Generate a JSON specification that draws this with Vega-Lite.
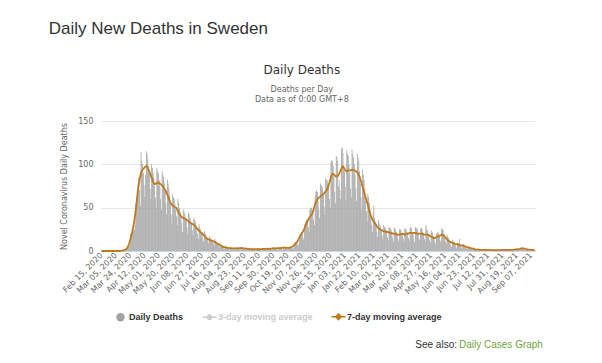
{
  "$schema": "https://vega.github.io/schema/vega-lite/v6.json",
  "background": "white",
  "autosize": {"type": "pad"},
  "padding": {"left": 48, "top": 20, "right": 0, "bottom": 0},
  "title": {"text": "Daily New Deaths in Sweden", "anchor": "start", "frame": "bounds", "dx": -12, "font": "Liberation Sans", "fontSize": 17, "fontWeight": "normal", "color": "#333333", "offset": 26},
  "vconcat": [
    {
      "width": 434,
      "height": 130,
      "title": {"text": "Daily Deaths", "subtitle": ["Deaths per Day", "Data as of 0:00 GMT+8"], "anchor": "middle", "frame": "bounds", "font": "DejaVu Sans", "fontSize": 12, "fontWeight": "normal", "color": "#333333", "subtitleFont": "DejaVu Sans", "subtitleFontSize": 8, "subtitleColor": "#666666", "subtitlePadding": 9, "subtitleLineHeight": 10, "offset": 12},
      "data": {
        "values": "d,v,a\n2020-02-15,0,0\n2020-02-16,0,0\n2020-02-17,0,0\n2020-02-18,0,0\n2020-02-19,0,0\n2020-02-20,0,0\n2020-02-21,0,0\n2020-02-22,0,0\n2020-02-23,0,0\n2020-02-24,0,0\n2020-02-25,0,0\n2020-02-26,0,0\n2020-02-27,0,0\n2020-02-28,0,0\n2020-02-29,0,0\n2020-03-01,0,0\n2020-03-02,0,0\n2020-03-03,0,0\n2020-03-04,0,0\n2020-03-05,0,0\n2020-03-06,0,0\n2020-03-07,0,0\n2020-03-08,0,0\n2020-03-09,0,0\n2020-03-10,0,0\n2020-03-11,1,0.1\n2020-03-12,0,0.1\n2020-03-13,1,0.3\n2020-03-14,0,0.4\n2020-03-15,1,0.6\n2020-03-16,1,0.9\n2020-03-17,2,1.3\n2020-03-18,3,1.7\n2020-03-19,3,2.3\n2020-03-20,5,3.2\n2020-03-21,5,4.5\n2020-03-22,4,6.5\n2020-03-23,6,9\n2020-03-24,20,12\n2020-03-25,18,15\n2020-03-26,21,18\n2020-03-27,24,22\n2020-03-28,26,27\n2020-03-29,24,31\n2020-03-30,30,37\n2020-03-31,55,43\n2020-04-01,62,50\n2020-04-02,70,58\n2020-04-03,78,66\n2020-04-04,85,73\n2020-04-05,70,79\n2020-04-06,52,84\n2020-04-07,114,88\n2020-04-08,104,91\n2020-04-09,100,93\n2020-04-10,90,94\n2020-04-11,76,95\n2020-04-12,62,96\n2020-04-13,88,97\n2020-04-14,115,97.5\n2020-04-15,112,98\n2020-04-16,106,97.5\n2020-04-17,96,95\n2020-04-18,88,93\n2020-04-19,72,91\n2020-04-20,60,88\n2020-04-21,100,86\n2020-04-22,96,84\n2020-04-23,90,82\n2020-04-24,85,79\n2020-04-25,75,78\n2020-04-26,62,77\n2020-04-27,50,77.5\n2020-04-28,96,78\n2020-04-29,92,78.5\n2020-04-30,90,79\n2020-05-01,82,79\n2020-05-02,74,78\n2020-05-03,60,77.5\n2020-05-04,48,77\n2020-05-05,92,76\n2020-05-06,88,75\n2020-05-07,85,74\n2020-05-08,78,73\n2020-05-09,68,71.5\n2020-05-10,55,70\n2020-05-11,42,68\n2020-05-12,82,66\n2020-05-13,78,64\n2020-05-14,72,62\n2020-05-15,65,59.5\n2020-05-16,54,57\n2020-05-17,42,55.5\n2020-05-18,32,54\n2020-05-19,66,53\n2020-05-20,62,52\n2020-05-21,60,51.5\n2020-05-22,54,51\n2020-05-23,48,50.5\n2020-05-24,40,50\n2020-05-25,30,49\n2020-05-26,60,47\n2020-05-27,56,45\n2020-05-28,50,43\n2020-05-29,45,42\n2020-05-30,40,41\n2020-05-31,32,40\n2020-06-01,22,39\n2020-06-02,48,38.5\n2020-06-03,46,38\n2020-06-04,43,37.5\n2020-06-05,39,37\n2020-06-06,35,36.5\n2020-06-07,28,36\n2020-06-08,20,35.5\n2020-06-09,44,35\n2020-06-10,42,34\n2020-06-11,38,33\n2020-06-12,35,32.5\n2020-06-13,31,32\n2020-06-14,24,31.5\n2020-06-15,18,31\n2020-06-16,38,30.5\n2020-06-17,36,30\n2020-06-18,34,29\n2020-06-19,30,28\n2020-06-20,26,27\n2020-06-21,20,26\n2020-06-22,14,25\n2020-06-23,31,24\n2020-06-24,28,23\n2020-06-25,25,22\n2020-06-26,22,21.5\n2020-06-27,20,21\n2020-06-28,15,20\n2020-06-29,11,19\n2020-06-30,23,18\n2020-07-01,21,17\n2020-07-02,19,16\n2020-07-03,16,15\n2020-07-04,14,14.5\n2020-07-05,11,14\n2020-07-06,8,13.5\n2020-07-07,17,13\n2020-07-08,15,12.5\n2020-07-09,14,12\n2020-07-10,12,12\n2020-07-11,11,12\n2020-07-12,9,11.5\n2020-07-13,6,11\n2020-07-14,14,10.5\n2020-07-15,12,10\n2020-07-16,11,9.5\n2020-07-17,9,9\n2020-07-18,8,8.5\n2020-07-19,6,8\n2020-07-20,4,7.5\n2020-07-21,9,7\n2020-07-22,8,6.5\n2020-07-23,7,6\n2020-07-24,6,5.5\n2020-07-25,5,5\n2020-07-26,3,4.8\n2020-07-27,2,4.5\n2020-07-28,6,4.2\n2020-07-29,5,4\n2020-07-30,4,3.8\n2020-07-31,4,3.6\n2020-08-01,3,3.5\n2020-08-02,2,3.4\n2020-08-03,1,3.3\n2020-08-04,5,3.2\n2020-08-05,4,3.1\n2020-08-06,4,3\n2020-08-07,3,3\n2020-08-08,3,3\n2020-08-09,2,3\n2020-08-10,1,3\n2020-08-11,4,3\n2020-08-12,4,3\n2020-08-13,3,3\n2020-08-14,4,3\n2020-08-15,3,3.1\n2020-08-16,2,3.2\n2020-08-17,2,3.3\n2020-08-18,5,3.4\n2020-08-19,4,3.4\n2020-08-20,4,3.3\n2020-08-21,3,3.2\n2020-08-22,3,3\n2020-08-23,2,2.9\n2020-08-24,1,2.8\n2020-08-25,4,2.7\n2020-08-26,3,2.6\n2020-08-27,3,2.5\n2020-08-28,3,2.4\n2020-08-29,2,2.3\n2020-08-30,1,2.2\n2020-08-31,1,2.1\n2020-09-01,3,2\n2020-09-02,3,2\n2020-09-03,2,2\n2020-09-04,2,2\n2020-09-05,2,2\n2020-09-06,1,2\n2020-09-07,1,2\n2020-09-08,3,2\n2020-09-09,3,2\n2020-09-10,2,2\n2020-09-11,2,2\n2020-09-12,2,2\n2020-09-13,1,2\n2020-09-14,1,2.1\n2020-09-15,3,2.2\n2020-09-16,3,2.3\n2020-09-17,3,2.4\n2020-09-18,3,2.5\n2020-09-19,2,2.5\n2020-09-20,2,2.5\n2020-09-21,1,2.5\n2020-09-22,4,2.5\n2020-09-23,3,2.5\n2020-09-24,3,2.5\n2020-09-25,3,2.5\n2020-09-26,2,2.6\n2020-09-27,2,2.7\n2020-09-28,1,2.8\n2020-09-29,4,2.9\n2020-09-30,4,3\n2020-10-01,4,3\n2020-10-02,3,3\n2020-10-03,3,3\n2020-10-04,2,3\n2020-10-05,1,3.1\n2020-10-06,4,3.2\n2020-10-07,4,3.3\n2020-10-08,4,3.3\n2020-10-09,4,3.3\n2020-10-10,3,3.4\n2020-10-11,3,3.5\n2020-10-12,1,3.6\n2020-10-13,5,3.7\n2020-10-14,5,3.8\n2020-10-15,5,3.8\n2020-10-16,4,3.8\n2020-10-17,4,3.7\n2020-10-18,2,3.6\n2020-10-19,2,3.5\n2020-10-20,5,3.5\n2020-10-21,4,3.6\n2020-10-22,5,3.8\n2020-10-23,4,4\n2020-10-24,5,4.5\n2020-10-25,3,5\n2020-10-26,3,5.5\n2020-10-27,8,6\n2020-10-28,8,7\n2020-10-29,10,8\n2020-10-30,10,9\n2020-10-31,11,10\n2020-11-01,8,11\n2020-11-02,6,12.5\n2020-11-03,17,14\n2020-11-04,19,16\n2020-11-05,21,17.5\n2020-11-06,22,19\n2020-11-07,20,20\n2020-11-08,16,21.5\n2020-11-09,13,23\n2020-11-10,31,25\n2020-11-11,34,27\n2020-11-12,35,29.5\n2020-11-13,37,31\n2020-11-14,33,33\n2020-11-15,28,35\n2020-11-16,22,37\n2020-11-17,48,38.5\n2020-11-18,50,40\n2020-11-19,50,41\n2020-11-20,48,42\n2020-11-21,43,43\n2020-11-22,36,46\n2020-11-23,30,49\n2020-11-24,64,52\n2020-11-25,68,55\n2020-11-26,70,57\n2020-11-27,68,59\n2020-11-28,58,60\n2020-11-29,48,61\n2020-11-30,38,62\n2020-12-01,78,62.5\n2020-12-02,76,63\n2020-12-03,75,64\n2020-12-04,72,65\n2020-12-05,64,65\n2020-12-06,52,66\n2020-12-07,42,67\n2020-12-08,84,68\n2020-12-09,82,69\n2020-12-10,82,70\n2020-12-11,78,72\n2020-12-12,72,74\n2020-12-13,60,77\n2020-12-14,50,80\n2020-12-15,102,83\n2020-12-16,104,86\n2020-12-17,104,88\n2020-12-18,98,89\n2020-12-19,86,89\n2020-12-20,68,88\n2020-12-21,55,87\n2020-12-22,110,86\n2020-12-23,108,86\n2020-12-24,104,86\n2020-12-25,74,87\n2020-12-26,82,88\n2020-12-27,70,90\n2020-12-28,60,92\n2020-12-29,118,94\n2020-12-30,120,96\n2020-12-31,113,98\n2021-01-01,94,97\n2021-01-02,92,96\n2021-01-03,74,94\n2021-01-04,58,93\n2021-01-05,116,92\n2021-01-06,112,92\n2021-01-07,110,93\n2021-01-08,100,93\n2021-01-09,90,93\n2021-01-10,72,93\n2021-01-11,62,93\n2021-01-12,117,93.5\n2021-01-13,112,94\n2021-01-14,108,93.5\n2021-01-15,100,93\n2021-01-16,88,93\n2021-01-17,72,92.5\n2021-01-18,58,92\n2021-01-19,112,91\n2021-01-20,108,90\n2021-01-21,104,88.5\n2021-01-22,92,87\n2021-01-23,78,85\n2021-01-24,62,82\n2021-01-25,48,79\n2021-01-26,94,76\n2021-01-27,88,73\n2021-01-28,82,70\n2021-01-29,72,67\n2021-01-30,58,64\n2021-01-31,46,61\n2021-02-01,34,58\n2021-02-02,66,55\n2021-02-03,62,52\n2021-02-04,56,48.5\n2021-02-05,48,45\n2021-02-06,40,42\n2021-02-07,30,40\n2021-02-08,22,38\n2021-02-09,44,36\n2021-02-10,52,34.5\n2021-02-11,38,33\n2021-02-12,34,32\n2021-02-13,30,31\n2021-02-14,22,29.5\n2021-02-15,16,28\n2021-02-16,36,27\n2021-02-17,32,26\n2021-02-18,30,25.5\n2021-02-19,27,25\n2021-02-20,24,24.5\n2021-02-21,18,24\n2021-02-22,13,23.5\n2021-02-23,30,23\n2021-02-24,28,23\n2021-02-25,27,22.5\n2021-02-26,25,22\n2021-02-27,22,22\n2021-02-28,16,22\n2021-03-01,12,22\n2021-03-02,28,21.5\n2021-03-03,27,21.5\n2021-03-04,26,21\n2021-03-05,24,21\n2021-03-06,20,20.5\n2021-03-07,15,20.5\n2021-03-08,11,20\n2021-03-09,27,20\n2021-03-10,26,20\n2021-03-11,24,19.5\n2021-03-12,22,19.5\n2021-03-13,19,19\n2021-03-14,14,19\n2021-03-15,11,19\n2021-03-16,25,19\n2021-03-17,25,19\n2021-03-18,24,19.5\n2021-03-19,21,19.5\n2021-03-20,20,20\n2021-03-21,14,20\n2021-03-22,11,19.5\n2021-03-23,26,19\n2021-03-24,26,19\n2021-03-25,24,19.5\n2021-03-26,22,20\n2021-03-27,20,20\n2021-03-28,15,20\n2021-03-29,12,20.5\n2021-03-30,27,21\n2021-03-31,28,21\n2021-04-01,26,21\n2021-04-02,22,21\n2021-04-03,20,21\n2021-04-04,14,21\n2021-04-05,10,21\n2021-04-06,28,21\n2021-04-07,27,20.5\n2021-04-08,26,20.5\n2021-04-09,25,20\n2021-04-10,20,20\n2021-04-11,14,20\n2021-04-12,12,20\n2021-04-13,26,20\n2021-04-14,27,20\n2021-04-15,25,20\n2021-04-16,22,19.5\n2021-04-17,19,19.5\n2021-04-18,14,19\n2021-04-19,11,19\n2021-04-20,30,19\n2021-04-21,26,19\n2021-04-22,24,19\n2021-04-23,20,19\n2021-04-24,18,18.5\n2021-04-25,13,18\n2021-04-26,10,17.5\n2021-04-27,24,17\n2021-04-28,22,16.5\n2021-04-29,21,16\n2021-04-30,17,15.5\n2021-05-01,15,15\n2021-05-02,10,15\n2021-05-03,8,15\n2021-05-04,20,15.5\n2021-05-05,21,16\n2021-05-06,22,16.5\n2021-05-07,20,17\n2021-05-08,17,17\n2021-05-09,12,17.5\n2021-05-10,10,18\n2021-05-11,26,18.5\n2021-05-12,25,19\n2021-05-13,24,18.5\n2021-05-14,20,18\n2021-05-15,16,17\n2021-05-16,11,16\n2021-05-17,8,15\n2021-05-18,19,14\n2021-05-19,17,13\n2021-05-20,15,12\n2021-05-21,13,11.5\n2021-05-22,11,11\n2021-05-23,7,10.5\n2021-05-24,5,10\n2021-05-25,13,9.5\n2021-05-26,12,9\n2021-05-27,11,8.8\n2021-05-28,10,8.5\n2021-05-29,8,8.2\n2021-05-30,5,8\n2021-05-31,3,7.8\n2021-06-01,10,7.6\n2021-06-02,9,7.4\n2021-06-03,9,7.2\n2021-06-04,14,7\n2021-06-05,6,6.8\n2021-06-06,4,6.6\n2021-06-07,3,6.4\n2021-06-08,8,6.2\n2021-06-09,8,6\n2021-06-10,7,5.8\n2021-06-11,6,5.6\n2021-06-12,5,5.2\n2021-06-13,3,4.8\n2021-06-14,2,4.5\n2021-06-15,6,4.2\n2021-06-16,5,4\n2021-06-17,5,3.8\n2021-06-18,4,3.5\n2021-06-19,3,3.2\n2021-06-20,2,3\n2021-06-21,1,2.8\n2021-06-22,4,2.6\n2021-06-23,3,2.4\n2021-06-24,3,2.2\n2021-06-25,2,2\n2021-06-26,2,1.8\n2021-06-27,1,1.7\n2021-06-28,0,1.6\n2021-06-29,3,1.5\n2021-06-30,2,1.5\n2021-07-01,2,1.4\n2021-07-02,2,1.4\n2021-07-03,1,1.4\n2021-07-04,1,1.3\n2021-07-05,0,1.3\n2021-07-06,2,1.3\n2021-07-07,2,1.2\n2021-07-08,2,1.2\n2021-07-09,1,1.2\n2021-07-10,1,1.2\n2021-07-11,1,1.2\n2021-07-12,0,1.2\n2021-07-13,2,1.2\n2021-07-14,2,1.2\n2021-07-15,1,1.2\n2021-07-16,1,1.2\n2021-07-17,1,1.1\n2021-07-18,0,1.1\n2021-07-19,0,1.1\n2021-07-20,2,1.1\n2021-07-21,2,1.1\n2021-07-22,1,1.1\n2021-07-23,1,1.1\n2021-07-24,1,1.1\n2021-07-25,1,1.1\n2021-07-26,0,1.1\n2021-07-27,2,1.1\n2021-07-28,1,1.1\n2021-07-29,1,1.1\n2021-07-30,2,1.1\n2021-07-31,1,1.2\n2021-08-01,1,1.2\n2021-08-02,0,1.2\n2021-08-03,2,1.2\n2021-08-04,2,1.2\n2021-08-05,1,1.2\n2021-08-06,1,1.2\n2021-08-07,1,1.2\n2021-08-08,1,1.2\n2021-08-09,0,1.2\n2021-08-10,2,1.2\n2021-08-11,2,1.2\n2021-08-12,2,1.2\n2021-08-13,1,1.2\n2021-08-14,1,1.3\n2021-08-15,1,1.4\n2021-08-16,0,1.5\n2021-08-17,3,1.6\n2021-08-18,3,1.7\n2021-08-19,3,1.8\n2021-08-20,3,1.85\n2021-08-21,2,1.9\n2021-08-22,1,2.1\n2021-08-23,1,2.3\n2021-08-24,4,2.5\n2021-08-25,4,2.7\n2021-08-26,4,2.9\n2021-08-27,3,3\n2021-08-28,3,3\n2021-08-29,2,2.9\n2021-08-30,1,2.6\n2021-08-31,4,2.3\n2021-09-01,3,2\n2021-09-02,2,1.8\n2021-09-03,2,1.6\n2021-09-04,1,1.5\n2021-09-05,1,1.5\n2021-09-06,0,1.5\n2021-09-07,2,1.4\n2021-09-08,2,1.4\n2021-09-09,2,1.4\n2021-09-10,2,1.4\n2021-09-11,1,1.4\n2021-09-12,1,1.4",
        "format": {"type": "csv", "parse": {"d": "date", "v": "number", "a": "number"}}
      },
      "layer": [
        {
          "mark": {"type": "bar", "binSpacing": 0, "width": {"band": 1}},
          "encoding": {
            "x": {
              "field": "d", "type": "temporal", "timeUnit": "utcyearmonthdate",
              "axis": {
                "title": null,
                "values": [
                  {"year": 2020, "month": 2, "date": 15, "hours": 12, "utc": true},
                  {"year": 2020, "month": 3, "date": 5, "hours": 12, "utc": true},
                  {"year": 2020, "month": 3, "date": 24, "hours": 12, "utc": true},
                  {"year": 2020, "month": 4, "date": 12, "hours": 12, "utc": true},
                  {"year": 2020, "month": 5, "date": 1, "hours": 12, "utc": true},
                  {"year": 2020, "month": 5, "date": 20, "hours": 12, "utc": true},
                  {"year": 2020, "month": 6, "date": 8, "hours": 12, "utc": true},
                  {"year": 2020, "month": 6, "date": 27, "hours": 12, "utc": true},
                  {"year": 2020, "month": 7, "date": 16, "hours": 12, "utc": true},
                  {"year": 2020, "month": 8, "date": 4, "hours": 12, "utc": true},
                  {"year": 2020, "month": 8, "date": 23, "hours": 12, "utc": true},
                  {"year": 2020, "month": 9, "date": 11, "hours": 12, "utc": true},
                  {"year": 2020, "month": 9, "date": 30, "hours": 12, "utc": true},
                  {"year": 2020, "month": 10, "date": 19, "hours": 12, "utc": true},
                  {"year": 2020, "month": 11, "date": 7, "hours": 12, "utc": true},
                  {"year": 2020, "month": 11, "date": 26, "hours": 12, "utc": true},
                  {"year": 2020, "month": 12, "date": 15, "hours": 12, "utc": true},
                  {"year": 2021, "month": 1, "date": 3, "hours": 12, "utc": true},
                  {"year": 2021, "month": 1, "date": 22, "hours": 12, "utc": true},
                  {"year": 2021, "month": 2, "date": 10, "hours": 12, "utc": true},
                  {"year": 2021, "month": 3, "date": 1, "hours": 12, "utc": true},
                  {"year": 2021, "month": 3, "date": 20, "hours": 12, "utc": true},
                  {"year": 2021, "month": 4, "date": 8, "hours": 12, "utc": true},
                  {"year": 2021, "month": 4, "date": 27, "hours": 12, "utc": true},
                  {"year": 2021, "month": 5, "date": 16, "hours": 12, "utc": true},
                  {"year": 2021, "month": 6, "date": 4, "hours": 12, "utc": true},
                  {"year": 2021, "month": 6, "date": 23, "hours": 12, "utc": true},
                  {"year": 2021, "month": 7, "date": 12, "hours": 12, "utc": true},
                  {"year": 2021, "month": 7, "date": 31, "hours": 12, "utc": true},
                  {"year": 2021, "month": 8, "date": 19, "hours": 12, "utc": true},
                  {"year": 2021, "month": 9, "date": 7, "hours": 12, "utc": true}
                ],
                "format": "%b %d, %Y",
                "labelAngle": -45,
                "labelAlign": "right",
                "labelBaseline": "middle",
                "labelPadding": 3,
                "labelFont": "DejaVu Sans",
                "labelFontSize": 8,
                "labelColor": "#666666",
                "labelOverlap": false,
                "labelFlush": false,
                "labelBound": false,
                "labelSeparation": 0,
                "ticks": false,
                "grid": false,
                "domainColor": "#ccd6eb",
                "domainWidth": 1
              }
            },
            "y": {
              "field": "v", "type": "quantitative",
              "scale": {"domain": [0, 150], "nice": false},
              "axis": {
                "title": "Novel Coronavirus Daily Deaths",
                "titleFont": "DejaVu Sans", "titleFontSize": 8, "titleFontWeight": "normal", "titleColor": "#666666", "titlePadding": 9,
                "values": [0, 50, 100, 150],
                "labelFont": "DejaVu Sans", "labelFontSize": 8, "labelColor": "#666666", "labelPadding": 8,
                "domain": false, "ticks": false,
                "gridColor": "#e6e6e6", "gridWidth": 1
              }
            },
            "color": {
              "datum": "Daily Deaths",
              "scale": {"domain": ["Daily Deaths", "3-day moving average", "7-day moving average"], "range": ["#a2a2a2", "#cccccc", "#c07a1c"]},
              "legend": {
                "title": null,
                "orient": "none",
                "legendX": 15,
                "legendY": 191,
                "direction": "horizontal",
                "padding": 0,
                "columnPadding": 15,
                "symbolSize": 256,
                "labelOffset": 4,
                "labelFont": "Liberation Sans",
                "labelFontSize": 9,
                "labelFontWeight": "bold",
                "labelColor": "#333333",
                "labelLimit": 300,
                "encode": {
                  "symbols": {"update": {
                    "shape": {"signal": "datum.value === 'Daily Deaths' ? 'circle' : (datum.value === '3-day moving average' ? 'M-1,0L1,0M0.3,0A0.3,0.3,0,1,1,-0.3,0A0.3,0.3,0,1,1,0.3,0Z' : 'M-1,0L1,0M0,-0.4L0.4,0L0,0.4L-0.4,0Z')"},
                    "size": {"signal": "datum.value === 'Daily Deaths' ? 70 : 200"},
                    "fill": {"signal": "datum.value === 'Daily Deaths' ? '#a0a0a0' : (datum.value === '3-day moving average' ? '#cccccc' : '#c07a1c')"},
                    "stroke": {"signal": "datum.value === 'Daily Deaths' ? '#a0a0a0' : (datum.value === '3-day moving average' ? '#cccccc' : '#c07a1c')"},
                    "strokeWidth": {"signal": "datum.value === 'Daily Deaths' ? 0 : 1.5"},
                    "opacity": {"value": 1}
                  }},
                  "labels": {"update": {
                    "fill": {"signal": "datum.value === '3-day moving average' ? '#cccccc' : '#333333'"}
                  }}
                }
              }
            }
          }
        },
        {
          "mark": {"type": "line", "strokeWidth": 1.8, "strokeJoin": "round"},
          "encoding": {
            "x": {
              "field": "d", "type": "temporal", "timeUnit": "utcyearmonthdate", "bandPosition": 0.5,
              "axis": {
                "title": null,
                "values": [
                  {"year": 2020, "month": 2, "date": 15, "hours": 12, "utc": true},
                  {"year": 2020, "month": 3, "date": 5, "hours": 12, "utc": true},
                  {"year": 2020, "month": 3, "date": 24, "hours": 12, "utc": true},
                  {"year": 2020, "month": 4, "date": 12, "hours": 12, "utc": true},
                  {"year": 2020, "month": 5, "date": 1, "hours": 12, "utc": true},
                  {"year": 2020, "month": 5, "date": 20, "hours": 12, "utc": true},
                  {"year": 2020, "month": 6, "date": 8, "hours": 12, "utc": true},
                  {"year": 2020, "month": 6, "date": 27, "hours": 12, "utc": true},
                  {"year": 2020, "month": 7, "date": 16, "hours": 12, "utc": true},
                  {"year": 2020, "month": 8, "date": 4, "hours": 12, "utc": true},
                  {"year": 2020, "month": 8, "date": 23, "hours": 12, "utc": true},
                  {"year": 2020, "month": 9, "date": 11, "hours": 12, "utc": true},
                  {"year": 2020, "month": 9, "date": 30, "hours": 12, "utc": true},
                  {"year": 2020, "month": 10, "date": 19, "hours": 12, "utc": true},
                  {"year": 2020, "month": 11, "date": 7, "hours": 12, "utc": true},
                  {"year": 2020, "month": 11, "date": 26, "hours": 12, "utc": true},
                  {"year": 2020, "month": 12, "date": 15, "hours": 12, "utc": true},
                  {"year": 2021, "month": 1, "date": 3, "hours": 12, "utc": true},
                  {"year": 2021, "month": 1, "date": 22, "hours": 12, "utc": true},
                  {"year": 2021, "month": 2, "date": 10, "hours": 12, "utc": true},
                  {"year": 2021, "month": 3, "date": 1, "hours": 12, "utc": true},
                  {"year": 2021, "month": 3, "date": 20, "hours": 12, "utc": true},
                  {"year": 2021, "month": 4, "date": 8, "hours": 12, "utc": true},
                  {"year": 2021, "month": 4, "date": 27, "hours": 12, "utc": true},
                  {"year": 2021, "month": 5, "date": 16, "hours": 12, "utc": true},
                  {"year": 2021, "month": 6, "date": 4, "hours": 12, "utc": true},
                  {"year": 2021, "month": 6, "date": 23, "hours": 12, "utc": true},
                  {"year": 2021, "month": 7, "date": 12, "hours": 12, "utc": true},
                  {"year": 2021, "month": 7, "date": 31, "hours": 12, "utc": true},
                  {"year": 2021, "month": 8, "date": 19, "hours": 12, "utc": true},
                  {"year": 2021, "month": 9, "date": 7, "hours": 12, "utc": true}
                ],
                "format": "%b %d, %Y",
                "labelAngle": -45,
                "labelAlign": "right",
                "labelBaseline": "middle",
                "labelPadding": 3,
                "labelFont": "DejaVu Sans",
                "labelFontSize": 8,
                "labelColor": "#666666",
                "labelOverlap": false,
                "labelFlush": false,
                "labelBound": false,
                "labelSeparation": 0,
                "ticks": false,
                "grid": false,
                "domainColor": "#ccd6eb",
                "domainWidth": 1
              }
            },
            "y": {"field": "a", "type": "quantitative"},
            "color": {"datum": "7-day moving average"}
          }
        },
        {
          "data": {"values": [{"t": "See also:"}]},
          "mark": {"type": "text", "align": "right", "baseline": "middle", "x": 356, "y": 224, "font": "Liberation Sans", "fontSize": 10, "color": "#333333"},
          "encoding": {"text": {"field": "t", "type": "nominal"}}
        },
        {
          "data": {"values": [{"t": "Daily Cases Graph"}]},
          "mark": {"type": "text", "align": "left", "baseline": "middle", "x": 358, "y": 224, "font": "Liberation Sans", "fontSize": 10, "color": "#6fa33a"},
          "encoding": {"text": {"field": "t", "type": "nominal"}}
        },
        {
          "data": {"values": [{"t": "underline"}]},
          "mark": {"type": "rule", "x": 358, "x2": 441, "y": 230, "color": "#6fa33a", "strokeWidth": 0.8},
          "encoding": {}
        }
      ]
    }
  ],
  "config": {
    "view": {"stroke": null},
    "font": "DejaVu Sans",
    "axisX": {"labelOverlap": false, "labelSeparation": 0}
  }
}
